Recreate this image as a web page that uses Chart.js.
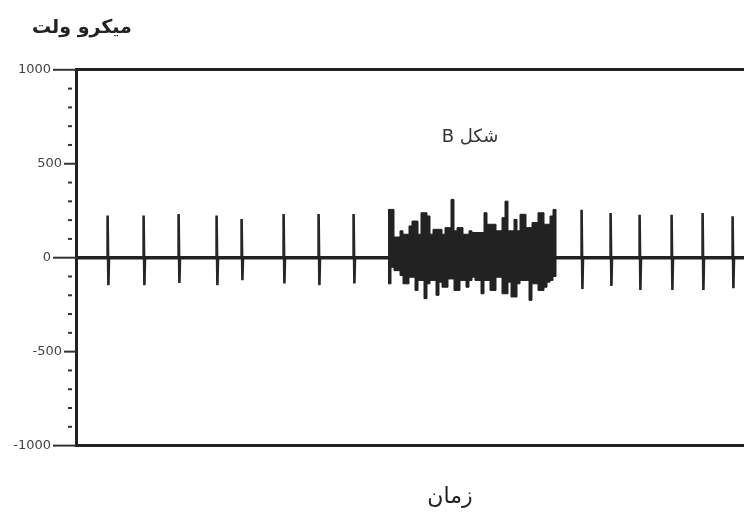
<!DOCTYPE html>
<html>
<head>
<meta charset="utf-8">
<script src="https://cdn.jsdelivr.net/npm/chart.js@4/dist/chart.umd.min.js"></script>
<style>
  html, body { margin: 0; padding: 0; background: #fff; overflow: hidden; }
  canvas { display: block; }
</style>
</head>
<body>
<canvas id="eegChart" width="824" height="514"></canvas>
<script>
// Dados (tempo em unidades do eixo x, amplitude em microvolts)
const yTicks = [1000, 500, 0, -500, -1000];
const spikeTimes = [32, 68, 103, 141, 166, 208, 243, 278, 506, 535, 564, 596, 627, 657];
const spikeUp = [224, 224, 232, 224, 206, 232, 232, 232, 255, 238, 229, 229, 238, 220];
const spikeDown = [-146, -146, -134, -146, -120, -137, -146, -137, -167, -150, -172, -172, -172, -162];

// Rajada (burst) entre t=312 e t=480, uma amostra a cada 3 unidades
const burstStart = 312;
const burstStep = 3;
const burstHigh = [257, 257, 110, 110, 143, 125, 125, 169, 195, 195, 125, 239, 239, 222, 125, 151,
  151, 151, 125, 160, 160, 310, 143, 160, 160, 125, 125, 143, 134, 134, 134, 134,
  239, 178, 178, 178, 143, 143, 213, 301, 143, 143, 204, 143, 231, 231, 160, 160,
  187, 187, 239, 239, 178, 178, 222, 257];
const burstLow = [-139, -51, -69, -69, -95, -139, -139, -104, -104, -174, -121, -121, -218, -139, -121, -121,
  -200, -130, -157, -157, -113, -113, -174, -174, -121, -121, -157, -121, -104, -121, -121, -192,
  -121, -121, -174, -174, -104, -104, -192, -192, -130, -209, -209, -139, -121, -121, -121, -227,
  -139, -139, -174, -174, -157, -130, -121, -100];

const xMax = 748;
const panelLabel = 'شکل B';
const inkColor = '#222';

// Pontos da linha com os picos (subida e descida quase verticais)
const spikePoints = [{ x: 0, y: 0 }];
spikeTimes.forEach((t, i) => {
  spikePoints.push({ x: t - 1, y: 0 });
  spikePoints.push({ x: t - 0.4, y: spikeUp[i] });
  spikePoints.push({ x: t + 0.4, y: spikeDown[i] });
  spikePoints.push({ x: t + 1, y: 0 });
});
spikePoints.push({ x: xMax, y: 0 });

const burstEnd = burstStart + burstHigh.length * burstStep;
const topPoints = burstHigh.map((v, i) => ({ x: burstStart + i * burstStep, y: v }));
topPoints.push({ x: burstEnd, y: 0 });
const lowPoints = burstLow.map((v, i) => ({ x: burstStart + i * burstStep, y: v }));
lowPoints.push({ x: burstEnd, y: 0 });

// Marcas e rótulos do eixo y, mais o rótulo do painel
const axisMarks = {
  id: 'axisMarks',
  afterDraw(chart) {
    const { ctx, chartArea, scales: { x, y } } = chart;
    ctx.save();
    ctx.strokeStyle = '#333';
    ctx.lineWidth = 2;
    ctx.fillStyle = '#444';
    ctx.font = '13px "DejaVu Sans"';
    ctx.textAlign = 'right';
    ctx.textBaseline = 'middle';
    y.ticks.forEach(t => {
      const py = y.getPixelForValue(t.value);
      const major = yTicks.includes(t.value);
      const len = major ? (Math.abs(t.value) === 500 ? 12 : 23) : 4;
      const gap = major ? 0 : 4;
      ctx.beginPath();
      ctx.moveTo(chartArea.left - gap - len, py);
      ctx.lineTo(chartArea.left - gap, py);
      ctx.stroke();
      if (major) ctx.fillText(String(t.value), chartArea.left - len - 2, py);
    });
    ctx.fillStyle = '#333';
    ctx.font = '18px "DejaVu Sans"';
    ctx.textAlign = 'center';
    ctx.direction = 'rtl';
    ctx.fillText(panelLabel, x.getPixelForValue(394), y.getPixelForValue(640));
    ctx.restore();
  }
};

const ctx = document.getElementById('eegChart').getContext('2d');
new Chart(ctx, {
  type: 'line',
  data: {
    datasets: [
      { data: topPoints, stepped: true, fill: 'origin', backgroundColor: inkColor, borderColor: inkColor, borderWidth: 1, pointRadius: 0 },
      { data: lowPoints, stepped: true, fill: 'origin', backgroundColor: inkColor, borderColor: inkColor, borderWidth: 1, pointRadius: 0 },
      { data: [{ x: 0, y: 0 }, { x: xMax, y: 0 }], borderColor: inkColor, borderWidth: 3.5, pointRadius: 0 },
      { data: spikePoints, borderColor: '#262626', borderWidth: 2.6, pointRadius: 0, tension: 0 }
    ]
  },
  options: {
    responsive: false,
    animation: false,
    devicePixelRatio: 1,
    layout: { padding: { left: 32, right: 0, top: 0, bottom: 4 } },
    plugins: {
      legend: { display: false },
      tooltip: { enabled: false },
      title: {
        display: true,
        text: 'میکرو ولت',
        align: 'start',
        color: inkColor,
        font: { family: 'DejaVu Sans', size: 19, weight: 'bold' },
        padding: { top: 17, bottom: 30 }
      }
    },
    scales: {
      x: {
        type: 'linear',
        min: 0,
        max: xMax,
        ticks: { display: false },
        grid: { display: false, drawTicks: false },
        border: { display: true, width: 3, color: inkColor },
        title: {
          display: true,
          text: 'زمان',
          color: inkColor,
          font: { family: 'DejaVu Sans', size: 22 },
          padding: { top: 38, bottom: 0 }
        }
      },
      x2: {
        type: 'linear',
        position: 'top',
        min: 0,
        max: xMax,
        ticks: { display: false },
        grid: { display: false, drawTicks: false },
        border: { display: true, width: 3, color: inkColor }
      },
      y: {
        min: -1000,
        max: 1000,
        afterFit(scale) { scale.width = 44; },
        ticks: { stepSize: 100, autoSkip: false, display: false },
        grid: { display: false, drawTicks: false },
        border: { display: true, width: 3, color: inkColor }
      }
    }
  },
  plugins: [axisMarks]
});
</script>
</body>
</html>
